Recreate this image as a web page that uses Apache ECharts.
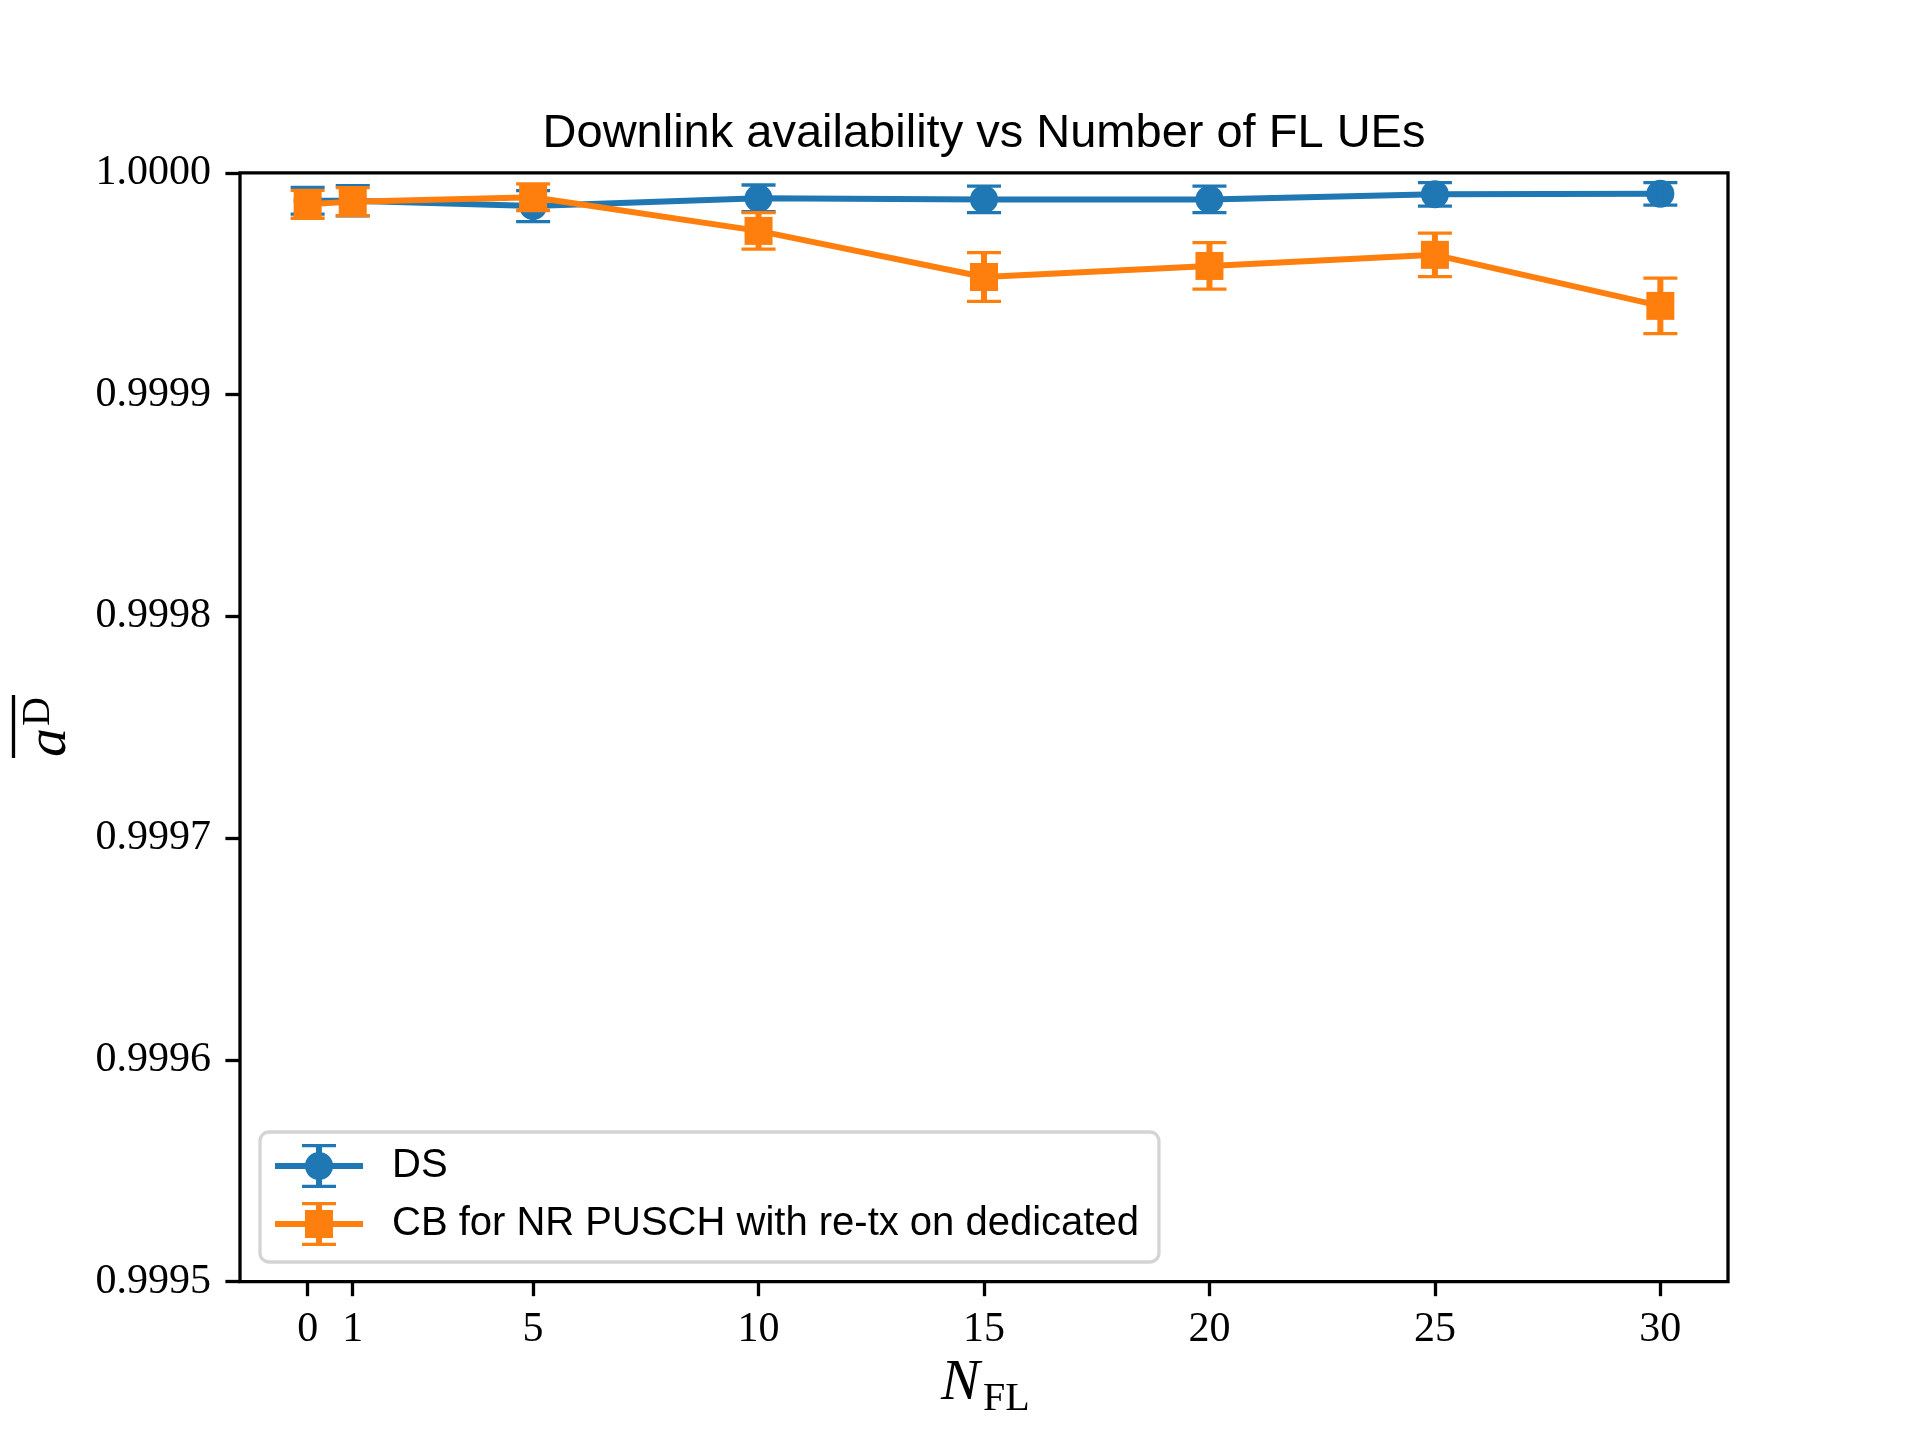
<!DOCTYPE html>
<html>
<head>
<meta charset="utf-8">
<script src="https://cdn.jsdelivr.net/npm/echarts@6/dist/echarts.min.js"></script>
<style>
  html, body { margin: 0; padding: 0; background: #fff; }
  #chart { width: 1920px; height: 1440px; }
</style>
</head>
<body>
<div id="chart"></div>
<script>
// number of FL UEs on the x axis
const nFL = [0, 1, 5, 10, 15, 20, 25, 30];
const xTicks = [0, 1, 5, 10, 15, 20, 25, 30];

// DS: mean availability and error half-width
const dsMean = [0.9999874, 0.9999874, 0.999985, 0.9999885, 0.999988, 0.999988, 0.9999903, 0.9999905];
const dsErr = [0.000006, 0.0000068, 0.000007, 0.000006, 0.000006, 0.000006, 0.0000053, 0.0000051];

// CB for NR PUSCH with re-tx on dedicated
const cbMean = [0.9999858, 0.999987, 0.999989, 0.9999738, 0.999953, 0.999958, 0.999963, 0.99994];
const cbErr = [0.0000063, 0.0000063, 0.000006, 0.0000082, 0.000011, 0.0000105, 0.0000098, 0.0000125];

const BLUE = '#1f77b4';
const ORANGE = '#ff7f0e';
const SANS = '"Liberation Sans", Arial, sans-serif';
const SERIF = '"Liberation Serif", "DejaVu Serif", serif';

// legend handles: line + marker + errorbar with caps (88 x 44 box)
const circleIcon = 'path://M0 19H88V25H0Z M41 2H47V42H41Z M27 0H61V3.3H27Z M27 40.7H61V44H27Z ' +
  'M30 22A14 14 0 1 1 58 22A14 14 0 1 1 30 22Z';
const squareIcon = 'path://M0 19H88V25H0Z M41 2H47V42H41Z M27 0H61V3.3H27Z M27 40.7H61V44H27Z ' +
  'M30 8H58V36H30Z';

function pairs(means) {
  return nFL.map((x, i) => [x, means[i]]);
}

function errorBars(means, errs, color, z) {
  return {
    type: 'custom',
    name: 'err',
    z: z,
    silent: true,
    clip: false,
    data: nFL.map((x, i) => [x, means[i] - errs[i], means[i] + errs[i]]),
    encode: { x: 0, y: [1, 2] },
    renderItem(params, api) {
      const lo = api.coord([api.value(0), api.value(1)]);
      const hi = api.coord([api.value(0), api.value(2)]);
      const half = 17;
      return {
        type: 'group',
        children: [
          { type: 'line', shape: { x1: lo[0], y1: lo[1], x2: hi[0], y2: hi[1] },
            style: { stroke: color, lineWidth: 6 } },
          { type: 'line', shape: { x1: lo[0] - half, y1: lo[1], x2: lo[0] + half, y2: lo[1] },
            style: { stroke: color, lineWidth: 3.3 } },
          { type: 'line', shape: { x1: hi[0] - half, y1: hi[1], x2: hi[0] + half, y2: hi[1] },
            style: { stroke: color, lineWidth: 3.3 } }
        ]
      };
    }
  };
}

function lineSeries(name, means, color, symbol, z) {
  return {
    type: 'line',
    name: name,
    z: z,
    data: pairs(means),
    symbol: symbol,
    symbolSize: 28,
    showSymbol: true,
    clip: false,
    color: color,
    lineStyle: { color: color, width: 6 },
    itemStyle: { color: color, borderWidth: 0 },
    emphasis: { disabled: true }
  };
}

const chart = echarts.init(document.getElementById('chart'), null, { renderer: 'canvas' });

chart.setOption({
  animation: false,
  backgroundColor: '#fff',
  title: {
    text: 'Downlink availability vs Number of FL UEs',
    left: 984,
    textAlign: 'center',
    top: 111,
    padding: 0,
    textStyle: { fontFamily: SANS, fontSize: 47, fontWeight: 'normal', color: '#000', lineHeight: 47 }
  },
  grid: {
    left: 240, right: 192, top: 172.8, bottom: 158.4,
    containLabel: false,
    outerBoundsMode: 'none',
    show: true,
    borderColor: '#000',
    borderWidth: 3.3,
    backgroundColor: 'transparent'
  },
  legend: {
    orient: 'vertical',
    left: 260,
    top: 1132,
    padding: [12, 20, 16, 15],
    itemGap: 14,
    itemWidth: 88,
    itemHeight: 44,
    backgroundColor: '#fff',
    borderColor: '#d4d4d4',
    borderWidth: 3.3,
    borderRadius: 9,
    itemStyle: { borderWidth: 0 },
    lineStyle: { width: 0 },
    textStyle: { fontFamily: SANS, fontSize: 40, color: '#000', padding: [0, 0, 0, 24] },
    data: [
      { name: 'DS', icon: circleIcon },
      { name: 'CB for NR PUSCH with re-tx on dedicated', icon: squareIcon }
    ]
  },
  xAxis: {
    type: 'value',
    min: -1.5,
    max: 31.5,
    axisLine: { show: false, onZero: false },
    splitLine: { show: false },
    axisTick: {
      show: true, inside: false, length: 14.6,
      lineStyle: { color: '#000', width: 3.3 },
      customValues: xTicks
    },
    axisLabel: {
      customValues: xTicks,
      margin: 27,
      fontFamily: SERIF, fontSize: 42, color: '#000'
    }
  },
  yAxis: {
    type: 'value',
    min: 0.9995,
    max: 1.0,
    interval: 0.0001,
    axisLine: { show: false, onZero: false },
    splitLine: { show: false },
    axisTick: { show: true, inside: false, length: 14.6, lineStyle: { color: '#000', width: 3.3 } },
    axisLabel: {
      margin: 29,
      fontFamily: SERIF, fontSize: 42, color: '#000',
      formatter: (v) => v.toFixed(4)
    }
  },
  graphic: [
    {
      // y-axis label: overline a^D, rotated
      type: 'group',
      x: 68, y: 726,
      rotation: Math.PI / 2,
      silent: true,
      children: [
        { type: 'text', x: -31, y: -18,
          style: { text: 'a', font: 'italic 58px ' + SERIF, fill: '#000', textAlign: 'left', textVerticalAlign: 'middle' } },
        { type: 'text', x: 0, y: -30,
          style: { text: 'D', font: '40px ' + SERIF, fill: '#000', textAlign: 'left', textVerticalAlign: 'middle' } },
        { type: 'line', shape: { x1: -32, y1: -54.5, x2: 31, y2: -54.5 },
          style: { stroke: '#000', lineWidth: 3.3 } }
      ]
    },
    {
      // x-axis label: N_FL
      type: 'group',
      silent: true,
      children: [
        { type: 'text', x: 941, y: 1384,
          style: { text: 'N', font: 'italic 58px ' + SERIF, fill: '#000', textAlign: 'left', textVerticalAlign: 'middle' } },
        { type: 'text', x: 983, y: 1399,
          style: { text: 'FL', font: '40px ' + SERIF, fill: '#000', textAlign: 'left', textVerticalAlign: 'middle' } }
      ]
    }
  ],
  series: [
    lineSeries('DS', dsMean, BLUE, 'circle', 2),
    errorBars(dsMean, dsErr, BLUE, 3),
    lineSeries('CB for NR PUSCH with re-tx on dedicated', cbMean, ORANGE, 'rect', 4),
    errorBars(cbMean, cbErr, ORANGE, 5)
  ]
});
</script>
</body>
</html>
